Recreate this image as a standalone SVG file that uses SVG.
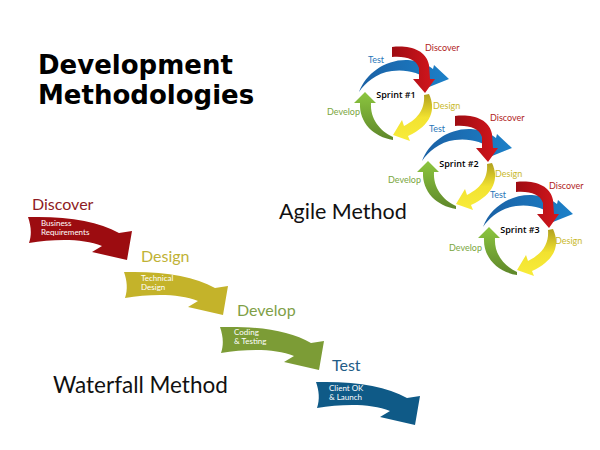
<svg xmlns="http://www.w3.org/2000/svg" width="600" height="450" viewBox="0 0 600 450">
<style>
.title{font-family:"DejaVu Sans",Verdana,sans-serif;font-weight:bold;font-size:26px;fill:#000}
.method{font-family:Lato,"Open Sans",sans-serif;fill:#111}
.wlab{font-family:Lato,"Open Sans",sans-serif;font-size:16px}
.inner{font-family:Lato,"Open Sans",sans-serif;font-size:8px;fill:#fff}
.slab{font-family:Lato,"Open Sans",sans-serif;font-size:9px}
.sprint{font-family:"Open Sans",sans-serif;font-size:9px;font-weight:600;fill:#000;text-anchor:middle}
</style>
<defs>
<path id="wfArrow" d="M0,0 C40,-1 70,4 91,16 L104,14 L99,43 L64,35 L74,29 C55,21 25,22 1,26 C4,17 3,9 0,0 Z"/>
<linearGradient id="gRed" x1="0" y1="0" x2="1" y2="0"><stop offset="0" stop-color="#9e0c12"/><stop offset="1" stop-color="#d4161d"/></linearGradient>
<linearGradient id="gBlue" x1="0" y1="0" x2="1" y2="0"><stop offset="0" stop-color="#1a60a4"/><stop offset="1" stop-color="#1c80c8"/></linearGradient>
<linearGradient id="gYel" x1="0" y1="0" x2="0" y2="1"><stop offset="0" stop-color="#b0a020"/><stop offset="0.5" stop-color="#f2e230"/><stop offset="1" stop-color="#f8ec3a"/></linearGradient>
<linearGradient id="gGrn" x1="0" y1="1" x2="0" y2="0"><stop offset="0" stop-color="#5e862a"/><stop offset="1" stop-color="#8cc63f"/></linearGradient>
<g id="cycle">
<path fill="url(#gGrn)" d="M-3,45 C-22,42 -37,28 -36,8 L-42,8 L-31,-3 L-20,8 L-25,8 C-26,24 -16,36 -3,42 Z"/>
<path fill="url(#gYel)" d="M28,0 L33,-1 C40,14 36,30 12,41 L14,46 L-3,40 L6,25 L8,31 C24,23 29,12 28,0 Z"/>
<path fill="url(#gBlue)" d="M-37,-3 C-30,-22 -10,-36 12,-35 C24,-34 32,-30 37,-26 L38,-30 L53,-16 L33,-8 L33,-15 C24,-22 10,-26 -4,-24 C-20,-22 -31,-12 -37,-3 Z"/>
<path fill="url(#gRed)" d="M-4,-48 C12,-50 30,-46 33,-30 L34,-16 L39,-16 L29,-2 L17,-16 L23,-16 L23,-27 C20,-36 10,-39 -4,-38 Z"/>
</g>
</defs>

<g id="title">
<text class="title" x="38" y="74">Development</text>
<text class="title" x="38" y="104">Methodologies</text>
</g>

<g id="wf-discover">
<use href="#wfArrow" fill="#9c0c10" transform="translate(28,217)"/>
<text class="wlab" x="32" y="210" fill="#8e1b24">Discover</text>
<text class="inner" x="41" y="225.5">Business</text>
<text class="inner" x="41" y="234.5">Requirements</text>
</g>
<g id="wf-design">
<use href="#wfArrow" fill="#c4b32a" transform="translate(124,272)"/>
<text class="wlab" x="141" y="262" fill="#bfb236">Design</text>
<text class="inner" x="141" y="280.5">Technical</text>
<text class="inner" x="141" y="289.5">Design</text>
</g>
<g id="wf-develop">
<use href="#wfArrow" fill="#7c9c36" transform="translate(220,327)"/>
<text class="wlab" x="237" y="316" fill="#7f9f47">Develop</text>
<text class="inner" x="234" y="334.5">Coding</text>
<text class="inner" x="234" y="343.5">&amp; Testing</text>
</g>
<g id="wf-test">
<use href="#wfArrow" fill="#0f5a87" transform="translate(316,382)"/>
<text class="wlab" x="332" y="371" fill="#235d87">Test</text>
<text class="inner" x="329" y="390.5">Client OK</text>
<text class="inner" x="329" y="399.5">&amp; Launch</text>
</g>

<g id="waterfall-label"><text class="method" x="53" y="393" font-size="22.5">Waterfall Method</text></g>
<g id="agile-label"><text class="method" x="279" y="219" font-size="21.5">Agile Method</text></g>

<g id="sprint-1" transform="translate(396,95)">
<use href="#cycle"/>
<text class="slab" x="-28" y="-32" fill="#2a76b8">Test</text>
<text class="slab" x="29" y="-44" fill="#b01c22">Discover</text>
<text class="slab" x="37" y="14" fill="#c9b92a">Design</text>
<text class="slab" x="-69" y="20" fill="#7aa640">Develop</text>
<text class="sprint" x="0" y="3">Sprint #1</text>
</g>
<g id="sprint-2" transform="translate(459,164)">
<use href="#cycle"/>
<text class="slab" x="-30" y="-32" fill="#2a76b8">Test</text>
<text class="slab" x="31" y="-43" fill="#b01c22">Discover</text>
<text class="slab" x="36" y="13" fill="#c9b92a">Design</text>
<text class="slab" x="-71" y="19" fill="#7aa640">Develop</text>
<text class="sprint" x="0" y="3">Sprint #2</text>
</g>
<g id="sprint-3" transform="translate(520,230)">
<use href="#cycle"/>
<text class="slab" x="-30" y="-32" fill="#2a76b8">Test</text>
<text class="slab" x="29" y="-41" fill="#b01c22">Discover</text>
<text class="slab" x="35" y="14" fill="#c9b92a">Design</text>
<text class="slab" x="-71" y="21" fill="#7aa640">Develop</text>
<text class="sprint" x="0" y="3">Sprint #3</text>
</g>
<g id="connectors"/>
</svg>
